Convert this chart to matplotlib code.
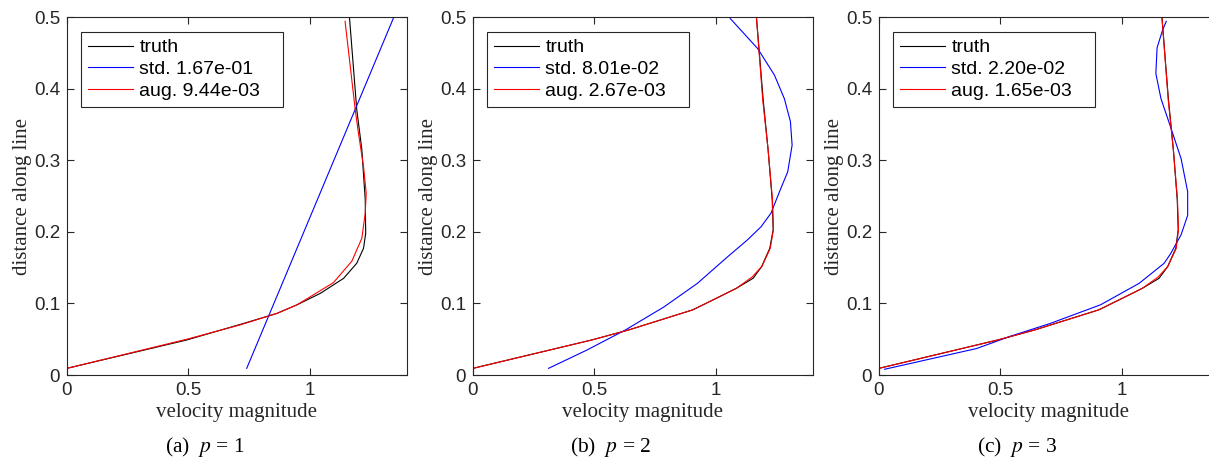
import matplotlib
matplotlib.use("Agg")
import matplotlib.pyplot as plt

plt.rcParams['mathtext.fontset'] = 'stix'

# ---- data (velocity magnitude, distance along line) ----
truth_a_x = [0.0, 0.494, 0.727, 0.864, 0.947, 1.043, 1.139, 1.193, 1.221, 1.230, 1.228, 1.214, 1.193, 1.163]
truth_a_y = [0.0093, 0.049, 0.072, 0.086, 0.098, 0.114, 0.135, 0.156, 0.177, 0.198, 0.245, 0.315, 0.371, 0.5]
std_a_x = [0.74, 1.346]
std_a_y = [0.0093, 0.5]
aug_a_x = [0.0, 0.494, 0.713, 0.864, 0.947, 1.097, 1.173, 1.214, 1.228, 1.232, 1.221, 1.200, 1.187, 1.145]
aug_a_y = [0.0093, 0.050, 0.070, 0.086, 0.098, 0.129, 0.159, 0.191, 0.226, 0.254, 0.291, 0.338, 0.370, 0.494]

truth_b_x = [0.0, 0.49, 0.642, 0.905, 1.001, 1.084, 1.153, 1.188, 1.222, 1.236, 1.232, 1.215, 1.195, 1.167]
truth_b_y = [0.0093, 0.049, 0.063, 0.091, 0.107, 0.121, 0.135, 0.151, 0.177, 0.203, 0.245, 0.315, 0.384, 0.5]
std_b_x = [0.311, 0.470, 0.628, 0.786, 0.924, 1.048, 1.131, 1.186, 1.227, 1.262, 1.296, 1.314, 1.307, 1.282, 1.241, 1.172, 1.059]
std_b_y = [0.0093, 0.035, 0.063, 0.095, 0.128, 0.165, 0.189, 0.207, 0.226, 0.256, 0.284, 0.321, 0.354, 0.386, 0.419, 0.456, 0.498]
aug_b_x = [0.0, 0.49, 0.642, 0.905, 1.001, 1.084, 1.150, 1.190, 1.224, 1.237, 1.233, 1.215, 1.193, 1.167]
aug_b_y = [0.0093, 0.049, 0.063, 0.091, 0.107, 0.121, 0.137, 0.152, 0.177, 0.203, 0.245, 0.315, 0.384, 0.5]

truth_c_x = [0.0, 0.49, 0.642, 0.905, 1.001, 1.084, 1.153, 1.188, 1.222, 1.232, 1.228, 1.212, 1.192, 1.165]
truth_c_y = [0.0093, 0.049, 0.063, 0.091, 0.107, 0.121, 0.135, 0.151, 0.177, 0.203, 0.245, 0.315, 0.384, 0.5]
std_c_x = [0.023, 0.402, 0.540, 0.705, 0.912, 1.071, 1.174, 1.200, 1.244, 1.271, 1.271, 1.244, 1.202, 1.161, 1.140, 1.145, 1.168, 1.183]
std_c_y = [0.008, 0.037, 0.054, 0.072, 0.098, 0.128, 0.156, 0.169, 0.196, 0.223, 0.256, 0.302, 0.345, 0.386, 0.421, 0.457, 0.482, 0.494]
aug_c_x = [0.0, 0.49, 0.642, 0.905, 1.001, 1.084, 1.150, 1.190, 1.224, 1.233, 1.229, 1.212, 1.191, 1.165]
aug_c_y = [0.0093, 0.049, 0.063, 0.091, 0.107, 0.121, 0.137, 0.152, 0.177, 0.203, 0.245, 0.315, 0.384, 0.5]

std_errors = ["1.67e-01", "8.01e-02", "2.20e-02"]
aug_errors = ["9.44e-03", "2.67e-03", "1.65e-03"]
captions = ["(a)", "(b)", "(c)"]
p_values = [1, 2, 3]
x_ticks = [0, 0.5, 1]
y_ticks = [0, 0.1, 0.2, 0.3, 0.4, 0.5]

panels = [
    (truth_a_x, truth_a_y, std_a_x, std_a_y, aug_a_x, aug_a_y),
    (truth_b_x, truth_b_y, std_b_x, std_b_y, aug_b_x, aug_b_y),
    (truth_c_x, truth_c_y, std_c_x, std_c_y, aug_c_x, aug_c_y),
]

W, H = 1209, 461
fig = plt.figure(figsize=(W / 100, H / 100), dpi=100)
axc = '#262626'
lefts = [67, 473, 879]
for i, (tx, ty, sx, sy, ax_, ay) in enumerate(panels):
    ax = fig.add_axes([lefts[i] / W, (H - 375) / H, 340 / W, 358 / H])
    ax.plot(tx, ty, color='black', lw=0.8, label='truth')
    ax.plot(sx, sy, color='blue', lw=0.8, label='std. ' + std_errors[i] + '   ')
    ax.plot(ax_, ay, color='red', lw=0.8, label='aug. ' + aug_errors[i] + '   ')
    ax.set_xlim(0, 1.4)
    ax.set_ylim(0, 0.5)
    ax.set_xticks(x_ticks)
    ax.set_xticklabels(['0', '0.5', '1'])
    ax.set_yticks(y_ticks)
    ax.set_yticklabels(['0', '0.1', '0.2', '0.3', '0.4', '0.5'])
    ax.tick_params(direction='in', top=True, right=True, length=5, width=0.8,
                   colors=axc, labelsize=13.5, pad=5)
    for t in ax.get_xticklabels() + ax.get_yticklabels():
        t.set_family('Liberation Sans')
    for s in ax.spines.values():
        s.set_color(axc)
        s.set_linewidth(0.8)
    ax.set_xlabel('velocity magnitude', family='Liberation Serif', fontsize=15, color=axc, labelpad=3)
    ax.set_ylabel('distance along line', family='Liberation Serif', fontsize=15, color=axc, labelpad=1)
    leg = ax.legend(loc='upper left', bbox_to_anchor=(14 / 340, 1 - 15 / 358), borderaxespad=0,
                    prop={'family': 'Liberation Sans', 'size': 14}, fancybox=False,
                    framealpha=1, edgecolor=axc, handlelength=2.3, handletextpad=0.35,
                    borderpad=0.35, labelspacing=0.22)
    leg.get_frame().set_linewidth(0.8)
    fig.text((lefts[i] + 138) / W, (H - 447) / H, captions[i] + r'  $p$ = ' + str(p_values[i]),
             family='Liberation Serif', fontsize=15.5, color='black', ha='center', va='center')

fig.savefig('out.png', dpi=100)
